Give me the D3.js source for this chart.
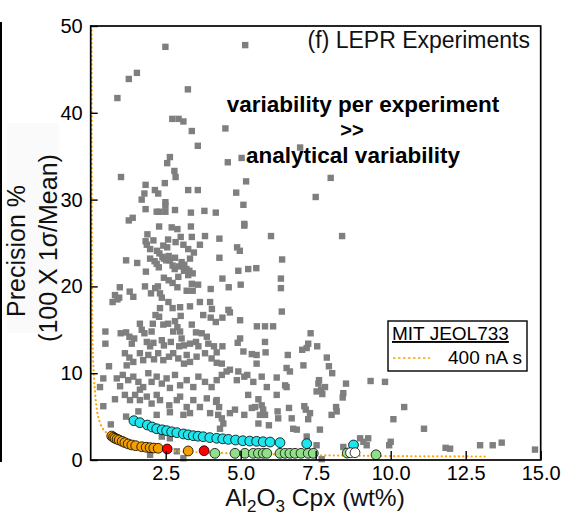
<!DOCTYPE html>
<html>
<head>
<meta charset="utf-8">
<script src="https://d3js.org/d3.v7.min.js"></script>
<style>
  body { margin: 0; background: #fff; }
  text { font-family: "Liberation Sans", Arial, sans-serif; }
</style>
</head>
<body>
<div id="root"></div>
<script>
const w = 565, h = 521

// ticks
const xTicks = [2.5, 5.0, 7.5, 10.0, 12.5, 15.0]
const yTicks = [0, 10, 20, 30, 40, 50]

// LEPR experiments (grey squares), [Al2O3 wt%, precision %]
const lepr = [
  [2.49,47.6],[5.15,47.8],[1.54,44.6],[1.27,43.9],[0.89,41.7],[3.24,42.7],[2.72,39.3],[2.93,39.3],[3.09,39.0],
  [3.37,37.9],[4.49,38.2],[3.57,36.2],[6.98,36.0],[5.03,34.8],[4.57,34.3],[1.01,32.6],[2.55,34.2],[2.64,34.9],
  [2.79,33.3],[2.83,32.6],[2.47,31.9],[1.83,31.7],[2.14,31.1],[2.25,30.7],[1.79,30.7],[3.25,31.1],[3.57,31.1],
  [5.18,32.1],[4.85,30.8],[8.0,32.5],[7.5,30.3],[1.7,30.0],[8.38,25.8],
  [2.49,29.7],[2.49,29.3],[1.83,28.9],[2.2,28.6],[2.29,28.6],[2.49,28.6],[2.81,28.8],[3.34,28.5],[3.79,28.7],
  [4.17,28.5],[1.4,27.9],[1.27,27.6],[2.28,26.9],[2.7,26.8],[2.89,26.6],[3.34,26.9],[1.89,26.0],[1.83,25.2],
  [1.87,24.8],[2.09,25.3],[2.58,25.4],[3.0,25.7],[3.37,25.7],[3.81,25.8],[4.29,25.5],[2.83,25.1],[2.42,24.7],
  [2.55,24.5],[3.09,24.8],[3.25,24.3],[3.44,23.9],[3.64,24.8],[1.98,24.3],[2.21,24.1],[2.29,23.8],[2.39,23.4],
  [2.6,23.5],[2.44,23.2],[2.52,23.0],[2.64,23.0],[2.81,23.3],[3.31,23.2],[4.29,23.3],[1.18,23.0],[1.55,22.7],
  [1.98,23.2],[2.13,22.9],[2.2,22.6],[2.27,22.2],[2.73,22.4],[2.8,22.0],[2.94,22.3],[3.03,22.8],[3.12,22.5],
  [3.19,22.0],[3.11,21.8],[3.29,21.8],[3.4,21.5],[3.25,21.3],[1.84,21.7],[2.44,21.0],[2.6,20.7],[2.73,20.4],
  [2.89,19.9],[2.92,21.1],[3.37,20.3],[3.58,20.2],[4.0,19.7],[0.97,19.9],[1.3,19.4],[1.81,20.0],[2.24,20.0],
  [2.15,19.8],[2.01,19.2],[2.31,19.2],[2.37,18.7],[2.59,18.2],[1.42,18.8],[0.81,19.0],[0.95,18.7],[0.73,18.2],
  [0.89,18.5],[3.2,19.5],[3.4,19.5],[3.64,18.2],[3.98,18.2],
  [5.09,29.4],[5.12,27.2],[5.12,27.0],[6.01,25.8],[4.88,24.5],[4.97,24.1],[6.38,23.1],[4.92,21.8],[5.25,22.0],
  [5.52,22.1],[4.39,20.9],[4.6,19.9],[5.0,20.2],[6.34,20.9],[6.34,19.8],
  [2.31,17.5],[2.28,16.5],[2.16,16.7],[2.73,17.5],[2.98,17.6],[3.0,16.6],[3.31,17.7],[4.04,17.4],[3.75,16.7],
  [4.0,16.4],[4.17,15.9],[1.64,15.7],[1.7,15.0],[1.79,14.6],[2.07,15.7],[2.03,14.8],[2.42,15.6],[2.58,15.7],
  [2.81,16.0],[2.89,15.3],[2.75,14.8],[2.98,14.8],[3.37,15.6],[3.51,14.7],[3.7,14.6],[3.87,14.2],[0.49,14.8],
  [0.49,13.4],[1.0,14.6],[1.18,14.7],[1.29,14.2],[1.45,14.0],[1.37,13.4],[1.87,13.6],[1.98,13.1],[2.09,13.5],
  [2.37,13.8],[2.44,13.2],[2.67,13.6],[3.03,14.0],[3.11,13.2],[2.95,13.1],[3.31,13.4],[3.51,13.6],[3.59,13.1],
  [3.92,13.4],[4.11,13.1],[1.14,12.3],[1.29,11.8],[1.42,11.3],[1.2,10.9],[1.64,12.3],[1.75,11.5],[1.92,12.1],
  [2.11,11.6],[2.25,12.3],[2.42,11.5],[2.61,11.9],[2.75,12.3],[2.92,11.7],[3.2,12.1],[3.11,11.1],[3.31,11.3],
  [3.53,11.9],[3.81,12.3],[4.03,11.7],[4.2,11.2],[0.61,10.8],[0.42,9.4],[0.31,8.4],[0.87,9.4],[1.07,9.8],
  [1.25,9.2],[0.98,8.5],[1.42,9.6],[1.59,9.0],[1.75,8.4],[1.64,8.1],[1.92,10.0],[2.03,9.0],[2.2,9.6],
  [2.37,8.8],[2.53,9.4],[2.64,8.3],[2.81,9.8],[2.98,8.6],[3.2,9.2],[3.42,8.4],[3.59,9.6],[3.81,9.0],
  [4.03,8.4],[4.2,9.2],[0.81,7.0],[0.42,6.2],[0.67,4.1],[1.14,7.5],[1.31,6.9],[1.48,7.5],[1.64,6.9],
  [1.87,7.3],[2.03,6.5],[2.2,7.5],[2.31,6.9],[2.62,6.3],[2.87,6.9],[3.2,6.1],[2.98,7.3],[3.42,6.9],
  [3.64,6.1],[3.87,7.1],[4.18,6.7],[1.18,5.0],[1.59,5.6],[2.2,5.2],[2.64,5.5],[3.09,5.2],[3.31,5.4],
  [3.98,5.4],[2.37,2.7],[2.64,2.5],[2.87,1.0],[3.09,0.2],[1.98,0.6],
  [4.64,17.0],[4.59,17.3],[4.98,16.1],[6.37,17.1],[4.39,16.4],[5.54,15.4],[5.81,15.4],[6.08,15.4],[7.33,14.6],
  [4.98,14.0],[4.9,13.5],[5.81,13.6],[5.83,12.4],[4.39,13.1],[4.2,12.4],[5.09,12.5],[5.37,12.2],[5.53,12.1],
  [5.53,11.1],[6.57,12.1],[6.53,10.6],[6.64,10.2],[7.05,12.7],[7.2,12.9],[7.25,13.4],[7.09,10.9],[7.55,13.1],
  [7.87,11.8],[7.94,10.8],[8.05,10.0],[4.37,11.1],[4.64,10.4],[4.53,10.2],[4.37,9.8],[4.92,10.2],[5.12,9.6],
  [5.22,9.8],[4.87,9.2],[5.7,9.6],[6.2,9.5],[5.42,9.0],[5.87,8.4],[6.48,8.6],[6.53,8.4],[6.2,7.5],
  [5.59,7.0],[5.25,7.5],[7.61,9.2],[7.68,8.1],[7.53,7.9],[7.72,7.6],[8.42,7.7],[4.2,6.9],[4.28,6.1],
  [4.64,5.4],[4.81,5.8],[5.12,5.2],[4.25,5.2],[5.37,6.0],[5.48,6.1],[5.7,6.3],[5.75,5.8],[5.81,5.2],
  [5.64,5.2],[6.23,5.6],[6.25,4.8],[6.61,6.0],[6.7,4.8],[7.12,6.2],[7.17,5.8],[7.31,5.4],[8.18,6.1],
  [8.2,5.6],[8.03,5.2],[5.59,4.2],[5.94,4.0],[6.75,3.6],[6.87,3.5],[7.64,3.5],[4.42,4.2],[4.37,4.8],
  [4.31,3.6],[7.53,1.7],[8.42,1.5],
  [7.59,8.8],[7.81,8.4],[8.51,8.8],[9.33,9.1],[9.81,9.0],[8.4,7.2],[7.25,4.7],[10.45,6.1],[10.09,4.7],
  [11.11,3.6],[7.2,2.7],[8.98,2.5],[9.25,2.5],[9.09,2.1],[9.2,1.7],[10.0,2.1],[9.95,1.7],[11.83,1.4],
  [11.98,1.3],[12.98,1.7],[13.4,1.7],[13.7,2.0],[14.81,1.2],[7.7,0.1]
]

// MIT JEOL733 analytical precision (circles)
const cyanPts = [
  [1.44,4.53],[1.64,4.3],[1.89,4.03],[2.05,3.8],[2.2,3.6],[2.38,3.48],[2.53,3.38],[2.7,3.25],[2.87,3.15],
  [3.09,3.0],[3.25,2.9],[3.42,2.8],[3.58,2.74],[3.75,2.68],[3.97,2.58],[4.2,2.5],[4.4,2.44],[4.59,2.38],
  [4.83,2.3],[5.07,2.22],[5.3,2.18],[5.53,2.15],[5.75,2.1],[5.98,2.07],[6.31,2.0],[7.2,1.88],[8.76,1.73]
]
const orangePts = [
  [0.7,2.76],[0.76,2.62],[0.81,2.5],[0.88,2.4],[0.95,2.3],[1.05,2.15],[1.14,2.0],[1.25,1.85],[1.37,1.73],
  [1.5,1.65],[1.7,1.53],[1.85,1.47],[1.98,1.42],[2.1,1.38],[2.25,1.35],[3.25,1.04]
]
const redPts = [[2.55,1.27],[3.78,1.07]]
const greenPts = [
  [4.14,0.77],[4.81,0.77],[5.14,0.77],[5.42,0.77],[5.59,0.77],[5.75,0.77],[5.87,0.77],[6.31,0.77],
  [6.48,0.77],[6.64,0.77],[6.81,0.77],[7.01,0.77],[7.25,0.77],[7.42,0.77],[8.55,0.8],[9.51,0.6]
]
const whitePts = [[8.66,0.84],[8.81,0.84]]

// 400 nA s counting-statistics curve
const curve400 = [
  [0.03,50],[0.035,35],[0.04,25],[0.045,18],[0.06,14],[0.08,11.5],[0.11,9.5],[0.14,8.0],[0.18,6.5],
  [0.25,5.0],[0.37,3.8],[0.48,3.3],[0.7,2.6],[1.0,2.1],[1.5,1.6],[2.2,1.25],[3.1,0.96],[4.1,0.84],
  [5.5,0.7],[7.5,0.55],[10.0,0.45],[13.25,0.4]
]

const x = d3.scaleLinear().domain([0, 15]).range([90.7, 540.7])
const y = d3.scaleLinear().domain([0, 50]).range([460, 26])

const svg = d3.select("#root").append("svg")
    .attr("width", w)
    .attr("height", h)
    .attr("viewBox", '0 0 ' + w + ' ' + h)

svg.append("rect").attr("width", w).attr("height", h).attr("fill", "white")

// leftover edge of the neighbouring panel
svg.append("rect").attr("x", 7).attr("y", 123).attr("width", 52).attr("height", 210).attr("fill", "#fafafa")
svg.append("line").attr("x1", 1).attr("x2", 1).attr("y1", 22).attr("y2", 462)
    .attr("stroke", "black").attr("stroke-width", 2)

// squares
svg.append("g").selectAll("rect.sq")
    .data(lepr)
    .join("rect")
    .attr("class", "sq")
    .attr("x", d => x(d[0]) - 3.2)
    .attr("y", d => y(d[1]) - 3.2)
    .attr("width", 6.4)
    .attr("height", 6.4)
    .attr("fill", "#7f7f7f")

// dotted curve
const line = d3.line().x(d => x(d[0])).y(d => y(d[1])).curve(d3.curveCatmullRom.alpha(0.5))
svg.append("path")
    .datum(curve400)
    .attr("d", line)
    .attr("fill", "none")
    .attr("stroke", "#ffa500")
    .attr("stroke-width", 2.2)
    .attr("stroke-linecap", "round")
    .attr("stroke-dasharray", "0.1,4.2")

// circles
const groups = [
  {pts: orangePts, fill: "#f5a000"},
  {pts: cyanPts, fill: "#1ee6ee"},
  {pts: redPts, fill: "#ff0000"},
  {pts: greenPts, fill: "#90e08a"},
  {pts: whitePts, fill: "#ffffff"}
]
groups.forEach(g => {
    svg.append("g").selectAll("circle")
        .data(g.pts)
        .join("circle")
        .attr("cx", d => x(d[0]))
        .attr("cy", d => y(d[1]))
        .attr("r", 4.9)
        .attr("fill", g.fill)
        .attr("stroke", "black")
        .attr("stroke-width", 0.8)
})

// frame + axes
svg.append("rect")
    .attr("x", x(0)).attr("y", y(50))
    .attr("width", x(15) - x(0)).attr("height", y(0) - y(50))
    .attr("fill", "none").attr("stroke", "black").attr("stroke-width", 1.7)

const xAxis = d3.axisBottom(x).tickValues(xTicks).tickSizeInner(-9).tickSizeOuter(0).tickPadding(6)
    .tickFormat(d3.format(".1f"))
const gx = svg.append("g").attr("transform", `translate(0,${y(0)})`).call(xAxis)
gx.select(".domain").remove()
gx.selectAll("line").attr("stroke-width", 1.4)
gx.selectAll("text").attr("font-size", 20).attr("fill", "black")

const yAxis = d3.axisLeft(y).tickValues(yTicks).tickSizeInner(-7).tickSizeOuter(0).tickPadding(8)
const gy = svg.append("g").attr("transform", `translate(${x(0)},0)`).call(yAxis)
gy.select(".domain").remove()
gy.selectAll("line").attr("stroke-width", 1.4)
gy.selectAll("text").attr("font-size", 20).attr("fill", "black")

// axis titles
const xt = svg.append("text").attr("x", 315).attr("y", 506).attr("text-anchor", "middle")
    .attr("font-size", 24.5).attr("fill", "#111")
xt.append("tspan").text("Al")
xt.append("tspan").text("2").attr("font-size", 17).attr("dy", 6)
xt.append("tspan").text("O").attr("dy", -6)
xt.append("tspan").text("3").attr("font-size", 17).attr("dy", 6)
xt.append("tspan").text(" Cpx (wt%)").attr("dy", -6)

svg.append("text").attr("transform", "translate(25,251) rotate(-90)")
    .attr("text-anchor", "middle").attr("font-size", 25).attr("fill", "#111")
    .text("Precision %")
svg.append("text").attr("transform", "translate(57,248) rotate(-90)")
    .attr("text-anchor", "middle").attr("font-size", 25).attr("fill", "#111")
    .text("(100 X 1\u03c3/Mean)")

// panel title + annotation
svg.append("text").attr("x", 530).attr("y", 48).attr("text-anchor", "end")
    .attr("font-size", 23).attr("fill", "#111").text("(f) LEPR Experiments")

const note = ["variability per experiment", ">>", "analytical variability"]
const noteX = [363, 352, 353], noteY = [112, 137, 163]
const noteSize = [22.5, 20, 22.5]
svg.selectAll("text.note")
    .data(note)
    .join("text")
    .attr("class", "note")
    .attr("x", (d, i) => noteX[i])
    .attr("y", (d, i) => noteY[i])
    .attr("text-anchor", "middle")
    .attr("font-size", (d, i) => noteSize[i])
    .attr("font-weight", "bold")
    .text(d => d)

// legend
const lg = svg.append("g")
lg.append("rect").attr("x", 388).attr("y", 321).attr("width", 139).attr("height", 50)
    .attr("fill", "white").attr("stroke", "black").attr("stroke-width", 1.4)
lg.append("text").attr("x", 392).attr("y", 340).attr("font-size", 19)
    .attr("text-decoration", "underline").text("MIT JEOL733")
lg.append("line").attr("x1", 393).attr("x2", 430).attr("y1", 358).attr("y2", 358)
    .attr("stroke", "#ffa500").attr("stroke-width", 1.4).attr("stroke-dasharray", "2.5,2.5")
lg.append("text").attr("x", 448).attr("y", 364).attr("font-size", 19).text("400 nA s")
</script>
</body>
</html>
